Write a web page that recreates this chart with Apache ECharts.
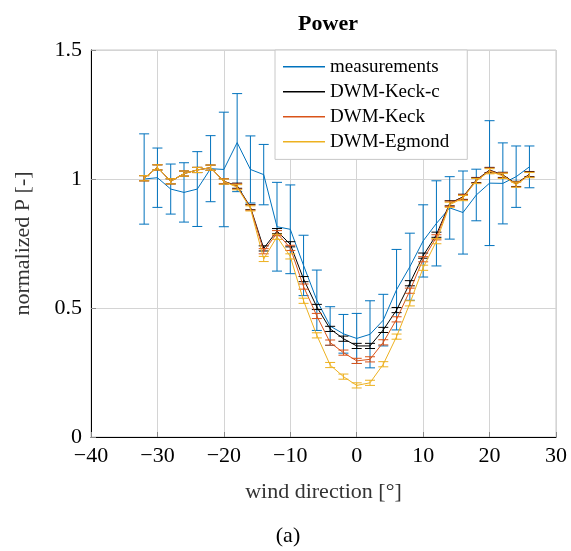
<!DOCTYPE html>
<html>
<head>
<meta charset="utf-8">
<script src="https://cdn.jsdelivr.net/npm/echarts@6/dist/echarts.min.js"></script>
<style>
  html, body { margin: 0; padding: 0; background: #fff; }
  #chart { width: 571px; height: 551px; }
</style>
</head>
<body>
<div id="chart"></div>
<script>
// wind direction bins [deg]
const windDir = [-32, -30, -28, -26, -24, -22, -20, -18, -16, -14, -12, -10, -8, -6, -4,
  -2, 0, 2, 4, 6, 8, 10, 12, 14, 16, 18, 20, 22, 24, 26];

const measured = [1.0, 1.005, 0.961, 0.948, 0.961, 1.04, 1.037, 1.141, 1.037, 1.017, 0.815, 0.805,
  0.665, 0.53, 0.43, 0.40, 0.382, 0.398, 0.453, 0.571, 0.66, 0.76, 0.828, 0.888, 0.87, 0.938,
  0.984, 0.983, 1.009, 1.047];
const measuredErr = [0.175, 0.115, 0.097, 0.115, 0.145, 0.128, 0.222, 0.19, 0.13, 0.117, 0.172,
  0.172, 0.117, 0.117, 0.075, 0.075, 0.097, 0.13, 0.10, 0.156, 0.13, 0.14, 0.165, 0.121, 0.161,
  0.10, 0.242, 0.157, 0.119, 0.081];

const keckC = [1.003, 1.045, 0.991, 1.021, 1.035, 1.044, 0.991, 0.974, 0.891, 0.731, 0.798, 0.747,
  0.612, 0.504, 0.419, 0.381, 0.353, 0.353, 0.415, 0.492, 0.596, 0.703, 0.784, 0.906, 0.931,
  0.996, 1.035, 1.016, 0.981, 1.019];
const keck = [1.003, 1.045, 0.991, 1.021, 1.035, 1.044, 0.991, 0.971, 0.889, 0.72, 0.79, 0.733,
  0.583, 0.469, 0.366, 0.327, 0.295, 0.301, 0.367, 0.456, 0.567, 0.689, 0.774, 0.904, 0.929,
  0.994, 1.033, 1.014, 0.979, 1.017];
const egmond = [1.003, 1.045, 0.991, 1.021, 1.035, 1.044, 0.99, 0.968, 0.886, 0.69, 0.776, 0.70,
  0.528, 0.394, 0.279, 0.234, 0.2, 0.21, 0.282, 0.389, 0.518, 0.656, 0.759, 0.9, 0.926, 0.992,
  1.03, 1.012, 0.978, 1.015];
const modelErr = 0.01;

const xTicks = [-40, -30, -20, -10, 0, 10, 20, 30];
const yTicks = [0, 0.5, 1, 1.5];

const font = 'Liberation Serif';
const blue = '#0072BD', black = '#000000', red = '#D95319', yellow = '#EDB120';

function errBar(color) {
  return function (params, api) {
    const x = api.value(0), y = api.value(1), e = api.value(2);
    const top = api.coord([x, y + e]);
    const bot = api.coord([x, y - e]);
    const hw = 5;
    const style = { stroke: color, lineWidth: 1 };
    return {
      type: 'group',
      children: [
        { type: 'line', shape: { x1: top[0], y1: top[1], x2: bot[0], y2: bot[1] }, style },
        { type: 'line', shape: { x1: top[0] - hw, y1: top[1], x2: top[0] + hw, y2: top[1] }, style },
        { type: 'line', shape: { x1: bot[0] - hw, y1: bot[1], x2: bot[0] + hw, y2: bot[1] }, style },
      ],
    };
  };
}

function pairs(vals) { return windDir.map((d, i) => [d, vals[i]]); }
function triples(vals, errs) {
  return windDir.map((d, i) => [d, vals[i], Array.isArray(errs) ? errs[i] : errs]);
}

const models = [
  { name: 'measurements', vals: measured, err: measuredErr, color: blue },
  { name: 'DWM-Keck-c', vals: keckC, err: modelErr, color: black },
  { name: 'DWM-Keck', vals: keck, err: modelErr, color: red },
  { name: 'DWM-Egmond', vals: egmond, err: modelErr, color: yellow },
];

const series = [];
models.forEach((m, i) => {
  series.push({
    name: m.name,
    type: 'line',
    data: pairs(m.vals),
    symbol: 'none',
    lineStyle: { color: m.color, width: 1 },
    itemStyle: { color: m.color },
    z: 10 + i * 2,
    animation: false,
  });
  series.push({
    name: m.name + ' err',
    type: 'custom',
    data: triples(m.vals, m.err),
    renderItem: errBar(m.color),
    encode: { x: 0, y: 1 },
    z: 11 + i * 2,
    silent: true,
    animation: false,
  });
});

const chart = echarts.init(document.getElementById('chart'));
chart.setOption({
  animation: false,
  title: {
    text: 'Power',
    left: 323,
    textAlign: 'center',
    top: 8,
    textStyle: { fontFamily: font, fontWeight: 'bold', fontSize: 22, color: '#000' },
  },
  grid: {
    left: 91, right: 15, top: 50, bottom: 114,
    show: true, borderColor: '#c8c8c8', borderWidth: 1,
  },
  legend: {
    data: models.map(m => m.name),
    orient: 'vertical',
    left: 275,
    top: 50,
    padding: [7, 18, 8, 8],
    itemGap: 5.6,
    itemWidth: 42,
    itemHeight: 1.5,
    icon: 'rect',
    backgroundColor: '#fff',
    borderColor: '#c8c8c8',
    borderWidth: 1,
    textStyle: { fontFamily: font, fontSize: 19, color: '#000', lineHeight: 19.4 },
  },
  xAxis: {
    type: 'value',
    min: -40, max: 30, interval: 10,
    name: 'wind direction [°]',
    nameLocation: 'middle',
    nameGap: 44,
    nameTextStyle: { fontFamily: font, fontSize: 22, color: '#333' },
    axisLine: { show: true, onZero: false, lineStyle: { color: '#000', width: 1 } },
    axisTick: { show: true, inside: true, length: 5, lineStyle: { color: '#888' } },
    axisLabel: {
      fontFamily: font, fontSize: 22, color: '#000', margin: 8,
      formatter: v => xTicks.includes(v) ? String(v).replace('-', '\u2212') : '',
    },
    splitLine: { show: true, lineStyle: { color: '#d4d4d4', width: 1 } },
  },
  yAxis: {
    type: 'value',
    min: 0, max: 1.5, interval: 0.5,
    name: 'normalized P [-]',
    nameLocation: 'middle',
    nameGap: 57,
    nameTextStyle: { fontFamily: font, fontSize: 22, color: '#333' },
    axisLine: { show: true, onZero: false, lineStyle: { color: '#000', width: 1 } },
    axisTick: { show: true, inside: true, length: 5, lineStyle: { color: '#888' } },
    axisLabel: {
      fontFamily: font, fontSize: 22, color: '#000', margin: 9,
      formatter: v => yTicks.includes(v) ? String(v) : '',
    },
    splitLine: { show: true, lineStyle: { color: '#d4d4d4', width: 1 } },
  },
  graphic: [{
    type: 'text',
    x: 288, y: 536,
    style: {
      text: '(a)', fontFamily: font, fontSize: 22, fill: '#000',
      textAlign: 'center', textVerticalAlign: 'middle',
    },
  }],
  series,
});
</script>
</body>
</html>
